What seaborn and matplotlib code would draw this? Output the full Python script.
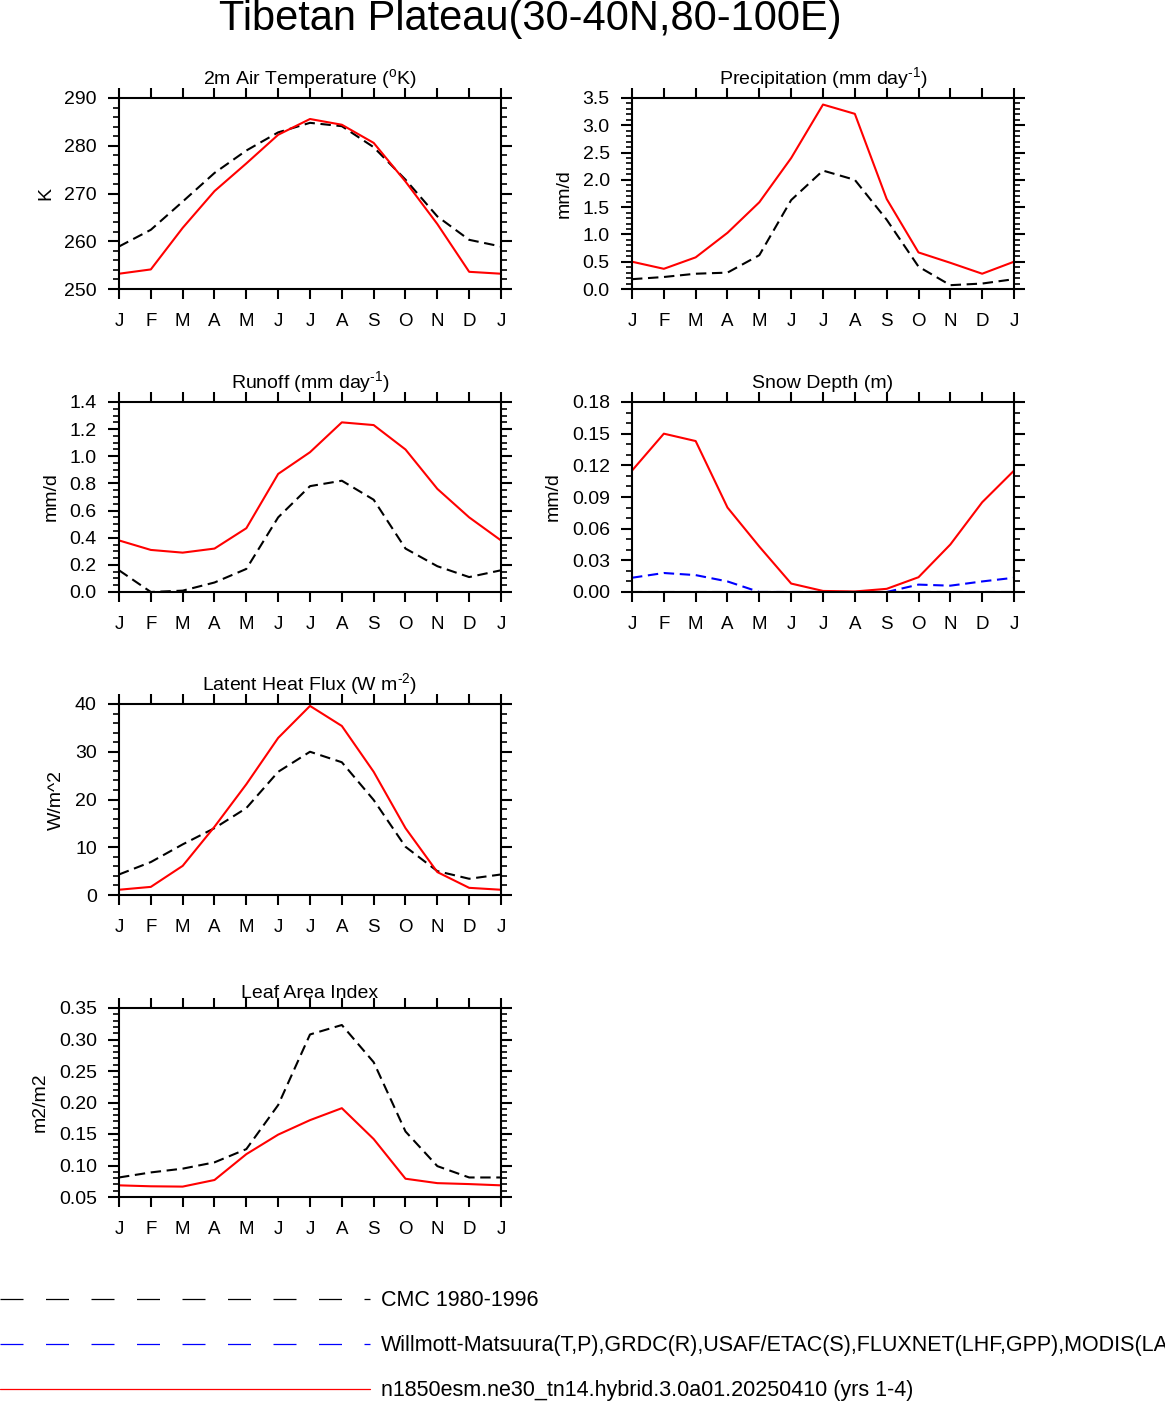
import numpy as np
import pandas as pd
import matplotlib
matplotlib.use("Agg")
import matplotlib.pyplot as plt
from matplotlib.ticker import MultipleLocator, FormatStrFormatter, NullLocator, FixedLocator
from matplotlib.lines import Line2D
import seaborn as sns

# ---------------- data ----------------
month_labels = ["J", "F", "M", "A", "M", "J", "J", "A", "S", "O", "N", "D", "J"]

tsa_model = [253.2, 254.1, 262.8, 270.5, 276.3, 282.3, 285.6, 284.4, 280.6, 272.5, 263.6, 253.6]
tsa_cmc = [258.9, 262.4, 268.3, 274.3, 279.0, 282.8, 284.8, 284.1, 279.7, 272.9, 265.2, 260.3]

prc_model = [0.50, 0.37, 0.58, 1.03, 1.59, 2.40, 3.38, 3.21, 1.65, 0.67, 0.48, 0.28]
prc_cmc = [0.18, 0.22, 0.28, 0.30, 0.62, 1.63, 2.17, 2.00, 1.27, 0.41, 0.07, 0.10]

ro_model = [0.38, 0.31, 0.29, 0.32, 0.47, 0.87, 1.03, 1.25, 1.23, 1.05, 0.76, 0.55]
ro_cmc = [0.16, 0.00, 0.01, 0.07, 0.17, 0.55, 0.78, 0.82, 0.68, 0.32, 0.19, 0.11]

snow_model = [0.115, 0.150, 0.143, 0.080, 0.043, 0.008, 0.001, 0.0005, 0.003, 0.014, 0.045, 0.085]
snow_cmc = [0.0] * 12
snow_obs = [0.0135, 0.018, 0.016, 0.010, 0.0, 0.0, 0.0, 0.0, 0.0, 0.007, 0.006, 0.010]

lhf_model = [1.1, 1.7, 6.1, 14.3, 23.2, 32.9, 39.6, 35.4, 25.8, 14.0, 4.8, 1.5]
lhf_cmc = [4.3, 6.9, 10.6, 14.0, 18.2, 25.8, 30.0, 27.8, 19.9, 10.1, 5.0, 3.4]

lai_model = [0.0685, 0.067, 0.0665, 0.077, 0.118, 0.149, 0.172, 0.191, 0.142, 0.079, 0.072, 0.0705]
lai_cmc = [0.081, 0.089, 0.095, 0.105, 0.126, 0.196, 0.308, 0.323, 0.264, 0.154, 0.099, 0.081]

legend_labels = [
    "CMC 1980-1996",
    "Willmott-Matsuura(T,P),GRDC(R),USAF/ETAC(S),FLUXNET(LHF,GPP),MODIS(LAI)",
    "n1850esm.ne30_tn14.hybrid.3.0a01.20250410 (yrs 1-4)",
]

# ---------------- style ----------------
sns.set_theme(style="ticks")
plt.rcParams['font.family'] = ['Liberation Sans', 'DejaVu Sans']
plt.rcParams['mathtext.fontset'] = 'custom'
plt.rcParams['mathtext.rm'] = 'Liberation Sans'
plt.rcParams['mathtext.it'] = 'Liberation Sans:italic'
plt.rcParams['mathtext.bf'] = 'Liberation Sans:bold'
plt.rcParams['mathtext.sf'] = 'Liberation Sans'
plt.rcParams['axes.edgecolor'] = 'black'
plt.rcParams['xtick.color'] = 'black'
plt.rcParams['ytick.color'] = 'black'
plt.rcParams['text.color'] = 'black'
plt.rcParams['axes.labelcolor'] = 'black'

W, H = 1165, 1401
fig = plt.figure(figsize=(W / 100, H / 100), dpi=100)
fig.patch.set_facecolor('white')

DASH = (0, (5.0, 2.7))
LW = 1.5


def add_axes_px(x0, y0, x1, y1):
    return fig.add_axes([x0 / W, 1 - y1 / H, (x1 - x0) / W, (y1 - y0) / H])


def panel(ax, series, title, ylabel, ylim, major, minor, fmt, title_pad=10.0):
    x = np.arange(13)
    for vals, color, ls in series:
        v = list(vals) + [vals[0]]
        df = pd.DataFrame({"month": x, "value": v})
        sns.lineplot(data=df, x="month", y="value", ax=ax, color=color,
                     linestyle=ls, linewidth=LW, legend=False)
    ax.set_xlim(0, 12)
    ax.set_ylim(*ylim)
    ax.xaxis.set_major_locator(FixedLocator(list(range(13))))
    ax.set_xticklabels(month_labels)
    ax.xaxis.set_minor_locator(NullLocator())
    ax.yaxis.set_major_locator(MultipleLocator(major))
    ax.yaxis.set_minor_locator(MultipleLocator(minor))
    ax.yaxis.set_major_formatter(FormatStrFormatter(fmt))
    for s in ax.spines.values():
        s.set_linewidth(1.5)
        s.set_color('black')
        s.set_visible(True)
    ax.tick_params(axis='x', which='major', top=True, bottom=True, direction='out',
                   length=7.5, width=1.5, labelsize=13.5, pad=9.5)
    ax.tick_params(axis='y', which='major', left=True, right=True, direction='out',
                   length=8, width=1.5, labelsize=14, pad=8)
    ax.tick_params(axis='y', which='minor', left=True, right=True, direction='out',
                   length=4.3, width=1.2)
    ax.set_xlabel("")
    ax.set_ylabel(ylabel, fontsize=14, labelpad=7)
    ax.set_title(title, fontsize=14, pad=title_pad)
    ax.set_facecolor('white')
    ax.grid(False)


rows = [(98, 289), (402, 592), (704, 895), (1008, 1197)]
lx = (119, 501)
rx = (632, 1014)

ax1 = add_axes_px(lx[0], rows[0][0], lx[1], rows[0][1])
panel(ax1, [(tsa_cmc, 'black', DASH), (tsa_model, 'red', '-')],
      r"2m Air Temperature ($^{\mathrm{o}}$K)", "K", (250, 290), 10, 2, "%d")

ax2 = add_axes_px(rx[0], rows[0][0], rx[1], rows[0][1])
panel(ax2, [(prc_cmc, 'black', DASH), (prc_model, 'red', '-')],
      r"Precipitation (mm day$^{\text{-1}}$)", "mm/d", (0, 3.5), 0.5, 0.1, "%.1f")

ax3 = add_axes_px(lx[0], rows[1][0], lx[1], rows[1][1])
panel(ax3, [(ro_cmc, 'black', DASH), (ro_model, 'red', '-')],
      r"Runoff (mm day$^{\text{-1}}$)", "mm/d", (0, 1.4), 0.2, 0.05, "%.1f")

ax4 = add_axes_px(rx[0], rows[1][0], rx[1], rows[1][1])
panel(ax4, [(snow_cmc, 'black', DASH), (snow_obs, 'blue', DASH), (snow_model, 'red', '-')],
      "Snow Depth (m)", "mm/d", (0, 0.18), 0.03, 0.01, "%.2f")

ax5 = add_axes_px(lx[0], rows[2][0], lx[1], rows[2][1])
panel(ax5, [(lhf_cmc, 'black', DASH), (lhf_model, 'red', '-')],
      r"Latent Heat Flux (W m$^{\text{-2}}$)", "W/m^2", (0, 40), 10, 2, "%d")

ax6 = add_axes_px(lx[0], rows[3][0], lx[1], rows[3][1])
panel(ax6, [(lai_cmc, 'black', DASH), (lai_model, 'red', '-')],
      "Leaf Area Index", "m2/m2", (0.05, 0.35), 0.05, 0.01, "%.2f", title_pad=7.5)

# main title
fig.text(530 / W, 1 - 19 / H, "Tibetan Plateau(30-40N,80-100E)", ha='center', va='center',
         fontsize=30)

# legend at bottom
leg_y = [1299, 1344, 1389]
LEG_LW = 0.9
leg_dash = (0, (16.56 / LEG_LW, 16.2 / LEG_LW))
leg_styles = [('black', leg_dash), ('blue', leg_dash), ('red', '-')]
for yy, (col, ls), lab in zip(leg_y, leg_styles, legend_labels):
    fy = 1 - yy / H
    fig.add_artist(Line2D([0, 370 / W], [fy, fy], color=col, linestyle=ls, linewidth=LEG_LW,
                          transform=fig.transFigure))
    fig.text(381 / W, fy - 1.5 / H, lab, ha='left', va='center', fontsize=15.5)

fig.savefig("out.png", dpi=100, facecolor='white')
